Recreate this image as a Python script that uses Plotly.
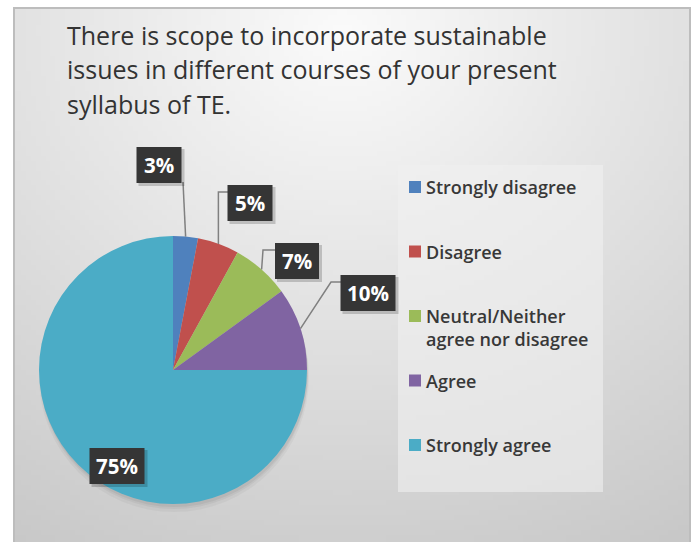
import base64
import math
import struct
import zlib

import plotly.graph_objects as go

# ---------------- data ----------------
categories = ["Strongly disagree", "Disagree", "Neutral/Neither agree nor disagree", "Agree", "Strongly agree"]
legend_labels = ["Strongly disagree", "Disagree", "Neutral/Neither<br>agree nor disagree", "Agree", "Strongly agree"]
values = [3, 5, 7, 10, 75]
colors = ["#4F81BD", "#C0504D", "#9BBB59", "#8064A2", "#4BACC6"]
title_lines = [
    "There is scope to incorporate sustainable",
    "issues in different courses of your present",
    "syllabus of TE.",
]

# ---------------- layout constants (pixels) ----------------
W, H = 695, 542
PIE_CX, PIE_CY, PIE_R = 173, 370, 134
FONT = "Open Sans"


def px(x):
    return x / W


def py(y):
    return 1 - y / H


# label box centres / widths and leader-line routing (layout only)
label_boxes = [(159, 165, 45), (250, 203, 45), (297, 261, 44), (368, 293, 55), (117, 466, 55)]
label_routes = [[(183, 182)], [("edge", 192), (228, 192)], [(263, 250), (276, 250)],
                [(331, 282), (341, 282)], []]
BOX_H = 36


# ---------------- background gradient image ----------------
def make_bg_png(w, h):
    rows = []
    for j in range(h):
        row = bytearray()
        yy = 8 + j * (H - 8) / h
        for i in range(w):
            xx = 14 + i * (690 - 14) / w
            d = math.sqrt(((xx - 340) / 600) ** 2 + ((yy - 30) / 520) ** 2)
            v = int(max(190, min(252, 251 - 45 * d)))
            row.append(v)
        rows.append(b"\x00" + bytes(row))
    raw = b"".join(rows)

    def chunk(tag, data):
        return struct.pack(">I", len(data)) + tag + data + struct.pack(">I", zlib.crc32(tag + data) & 0xFFFFFFFF)

    png = b"\x89PNG\r\n\x1a\n"
    png += chunk(b"IHDR", struct.pack(">IIBBBBB", w, h, 8, 0, 0, 0, 0))
    png += chunk(b"IDAT", zlib.compress(raw, 9))
    png += chunk(b"IEND", b"")
    return "data:image/png;base64," + base64.b64encode(png).decode()


fig = go.Figure()

fig.add_trace(go.Pie(
    labels=categories,
    values=values,
    sort=False,
    direction="clockwise",
    rotation=0,
    marker=dict(colors=colors, line=dict(width=0)),
    textinfo="none",
    hoverinfo="label+percent",
    showlegend=False,
    domain=dict(x=[px(PIE_CX - PIE_R), px(PIE_CX + PIE_R)],
                y=[py(PIE_CY + PIE_R), py(PIE_CY - PIE_R)]),
))

shapes = []
annotations = []

# chart-area border
shapes.append(dict(type="rect", xref="paper", yref="paper", x0=px(14), x1=px(690), y0=py(543), y1=py(8),
                   line=dict(color="#bdbdbd", width=2), fillcolor="rgba(0,0,0,0)", layer="below"))

# soft shadow under the pie (mostly below)
for off, extra, alpha in [(7, 1, 0.035), (5, 0, 0.045), (3, 0, 0.05)]:
    shapes.append(dict(type="circle", xref="paper", yref="paper",
                       x0=px(PIE_CX - PIE_R - extra + 1), x1=px(PIE_CX + PIE_R + extra + 1),
                       y0=py(PIE_CY + PIE_R + extra + off), y1=py(PIE_CY - PIE_R - extra + off),
                       fillcolor=f"rgba(0,0,0,{alpha})", line=dict(width=0), layer="below"))

# data labels with leader lines
total = sum(values)
cum = 0
for k, v in enumerate(values):
    theta = 2 * math.pi * (cum + v / 2) / total
    cum += v
    ex = PIE_CX + PIE_R * math.sin(theta)
    ey = PIE_CY - PIE_R * math.cos(theta)
    route = label_routes[k]
    if route:
        pts = [(ex, ey)]
        for (rx, ry) in route:
            pts.append((ex if rx == "edge" else rx, ry))
        path = "M " + " L ".join(f"{px(a):.5f},{py(b):.5f}" for a, b in pts)
        shapes.append(dict(type="path", xref="paper", yref="paper", path=path,
                           line=dict(color="#808080", width=1.5)))
    bx, by, bw = label_boxes[k]
    # shadow
    shapes.append(dict(type="rect", xref="paper", yref="paper",
                       x0=px(bx - bw / 2 + 2), x1=px(bx + bw / 2 + 3),
                       y0=py(by + BOX_H / 2 + 3), y1=py(by - BOX_H / 2 + 2),
                       fillcolor="rgba(0,0,0,0.18)", line=dict(width=0)))
    shapes.append(dict(type="rect", xref="paper", yref="paper",
                       x0=px(bx - bw / 2), x1=px(bx + bw / 2),
                       y0=py(by + BOX_H / 2), y1=py(by - BOX_H / 2),
                       fillcolor="#353535", line=dict(width=0)))
    annotations.append(dict(xref="paper", yref="paper", x=px(bx), y=py(by), showarrow=False,
                            text=f"{round(100 * v / total)}%", xanchor="center", yanchor="middle",
                            font=dict(family=FONT, size=20.5, color="white", weight="bold")))

# legend (manual, to reproduce Excel spacing)
LEG_X0, LEG_X1, LEG_Y0, LEG_Y1 = 398, 603, 165, 492
shapes.append(dict(type="rect", xref="paper", yref="paper", x0=px(LEG_X0), x1=px(LEG_X1),
                   y0=py(LEG_Y1), y1=py(LEG_Y0), fillcolor="rgba(240,240,240,0.6)",
                   line=dict(width=0), layer="below"))
leg_first, leg_step = 187, 64.5
for k, lab in enumerate(legend_labels):
    yc = leg_first + k * leg_step
    shapes.append(dict(type="rect", xref="paper", yref="paper", x0=px(409), x1=px(421),
                       y0=py(yc + 6), y1=py(yc - 6), fillcolor=colors[k], line=dict(width=0)))
    annotations.append(dict(xref="paper", yref="paper", x=px(424), y=py(yc - 14), showarrow=False,
                            text=lab, xanchor="left", yanchor="top", align="left",
                            font=dict(family=FONT, size=18, color="#383838", weight=600)))

# title lines
for k, line in enumerate(title_lines):
    annotations.append(dict(xref="paper", yref="paper", x=px(65), y=py(35 + k * 34.5), showarrow=False,
                            text=line, xanchor="left", yanchor="middle", align="left",
                            font=dict(family=FONT, size=25, color="#333333", weight=500)))

fig.update_layout(
    width=W, height=H,
    margin=dict(l=0, r=0, t=0, b=0),
    paper_bgcolor="white",
    plot_bgcolor="white",
    showlegend=False,
    shapes=shapes,
    annotations=annotations,
    images=[dict(source=make_bg_png(139, 107), xref="paper", yref="paper",
                 x=px(14), y=py(8), sizex=(690 - 14) / W, sizey=(H - 8) / H,
                 xanchor="left", yanchor="top", sizing="stretch", layer="below")],
)

fig.write_html("out.html", config={"displayModeBar": False},
               post_script="document.body.style.margin='0';document.body.style.overflow='hidden';")
